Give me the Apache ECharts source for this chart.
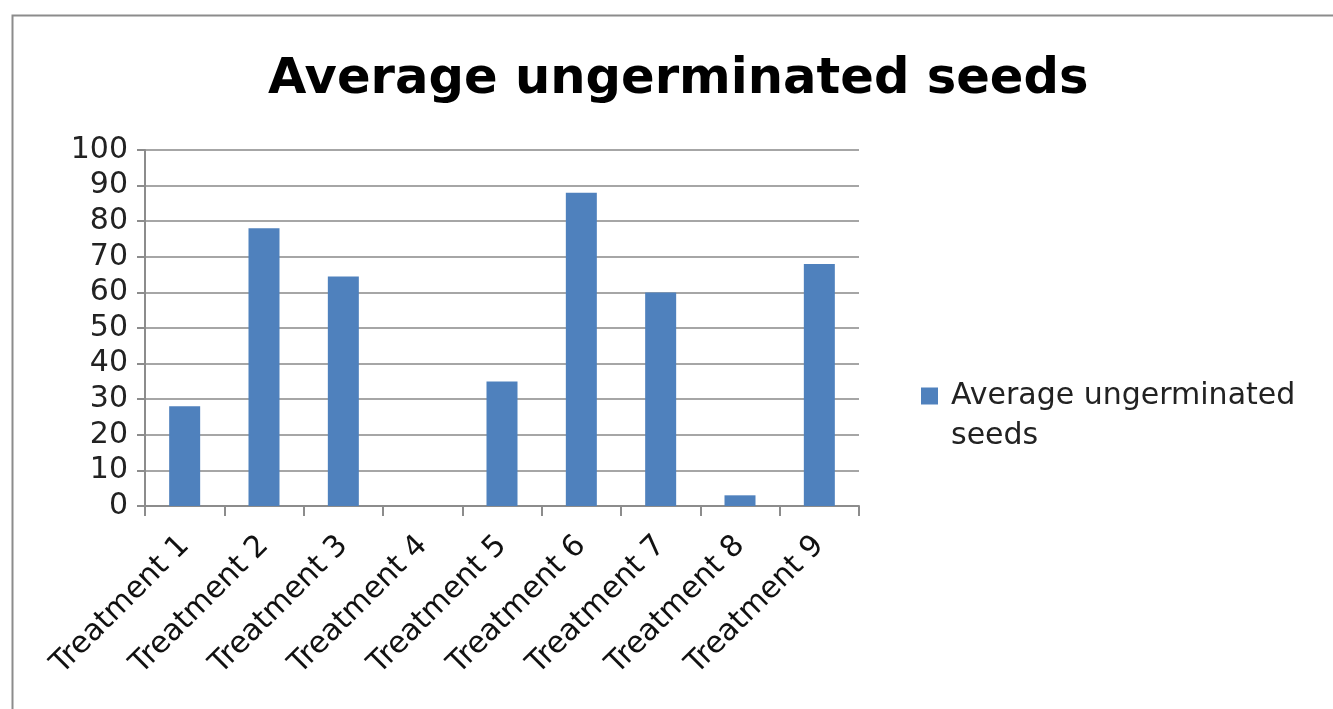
<!DOCTYPE html>
<html>
<head>
<meta charset="utf-8">
<script src="https://cdn.jsdelivr.net/npm/echarts@6/dist/echarts.min.js"></script>
<style>
  html, body { margin: 0; padding: 0; background: #fff; }
  #chart { width: 1333px; height: 709px; }
</style>
</head>
<body>
<div id="chart"></div>
<script>
// 数据
const categories = ["Treatment 1", "Treatment 2", "Treatment 3", "Treatment 4", "Treatment 5",
  "Treatment 6", "Treatment 7", "Treatment 8", "Treatment 9"]
const seedValues = [28, 78, 64.5, 0, 35, 88, 60, 3, 68]
const seriesName = "Average ungerminated seeds"

const myChart = echarts.init(document.getElementById("chart"))

const option = {
  animation: false,
  textStyle: { fontFamily: "DejaVu Sans" },
  title: {
    text: "Average ungerminated seeds",
    left: 268,
    top: 55,
    padding: 0,
    textStyle: { fontFamily: "DejaVu Sans", fontWeight: "bold", fontSize: 49.6, color: "#000" },
  },
  graphic: [
    {
      type: "rect",
      left: 10,
      top: 13,
      shape: { width: 1340, height: 710 },
      style: { fill: "none", stroke: "#8c8c8c", lineWidth: 2 },
    },
  ],
  // 图例：空的第一行让色块对齐到文字第一行
  legend: {
    left: 921,
    top: 336,
    padding: 0,
    itemWidth: 17,
    itemHeight: 17,
    icon: "rect",
    data: [seriesName],
    formatter: () => "\n{t|Average ungerminated}\n{t|seeds}",
    textStyle: {
      fontSize: 30,
      lineHeight: 40,
      color: "#222",
      rich: {
        t: { fontSize: 30, lineHeight: 40, color: "#222", padding: [0, 0, 0, 8] },
      },
    },
  },
  grid: {
    left: 145,
    right: 474,
    top: 150,
    bottom: 203,
    containLabel: false,
  },
  xAxis: {
    type: "category",
    data: categories,
    axisLine: { lineStyle: { color: "#8c8c8c", width: 2 } },
    axisTick: { show: true, length: 10, interval: 0, lineStyle: { color: "#8c8c8c", width: 2 } },
    axisLabel: {
      interval: 0,
      rotate: 45,
      margin: 35,
      fontSize: 30,
      color: "#111",
    },
  },
  yAxis: {
    type: "value",
    min: 0,
    max: 100,
    interval: 10,
    axisLine: { show: true, lineStyle: { color: "#8c8c8c", width: 2 } },
    axisTick: { show: true, length: 8, lineStyle: { color: "#8c8c8c", width: 2 } },
    axisLabel: { fontSize: 30, margin: 17, color: "#222" },
    splitLine: { show: true, lineStyle: { color: "#a6a6a6", width: 2 } },
  },
  series: [
    {
      name: seriesName,
      type: "bar",
      data: seedValues,
      barWidth: 31,
      itemStyle: { color: "#4f81bd" },
    },
  ],
}

myChart.setOption(option)
</script>
</body>
</html>
